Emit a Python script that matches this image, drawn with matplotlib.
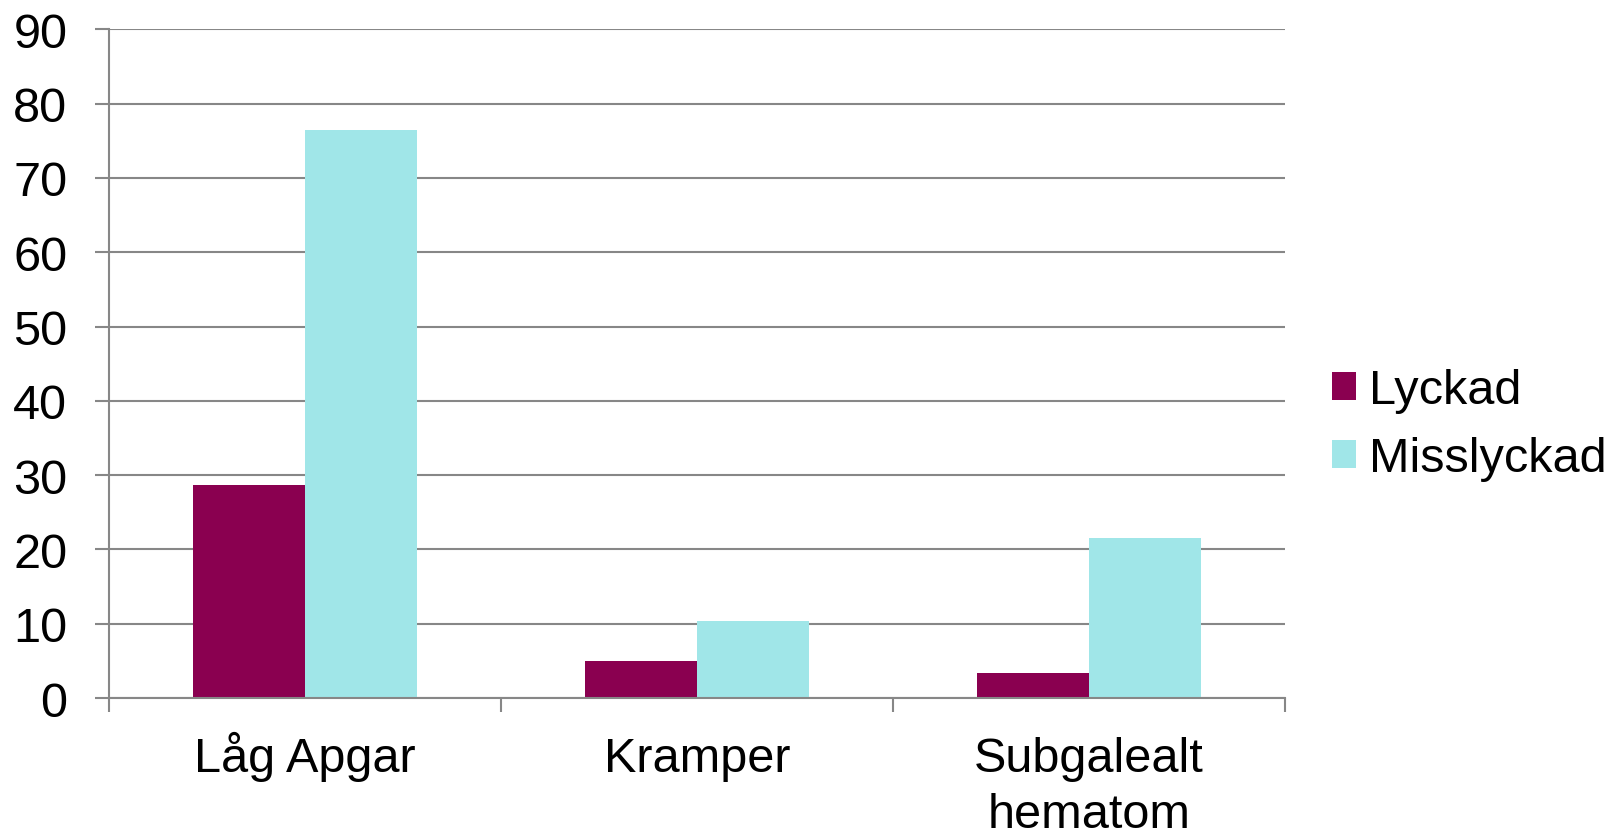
import matplotlib.pyplot as plt
import matplotlib.transforms as mtransforms
import numpy as np

plt.rcParams['font.family'] = ['Liberation Sans', 'DejaVu Sans']

categories = ['Låg Apgar', 'Kramper', 'Subgalealt\nhematom']
lyckad = [28.7, 5.0, 3.4]
misslyckad = [76.4, 10.3, 21.5]
series_names = ['Lyckad', 'Misslyckad']

MAGENTA = '#8a0050'
CYAN = '#a0e6e8'
GRID = '#878787'
FS = 35

fig = plt.figure(figsize=(16.12, 8.29), dpi=100)
ax = fig.add_axes([0.0676, 0.1568, 0.7296, 0.8066])

x = np.arange(len(categories))
w = 0.2857
ax.bar(x - w / 2, lyckad, w, color=MAGENTA, label=series_names[0], zorder=3)
ax.bar(x + w / 2, misslyckad, w, color=CYAN, label=series_names[1], zorder=3)

ax.set_xlim(-0.5, len(categories) - 0.5)
ax.set_ylim(0, 90)
ax.set_yticks(np.arange(0, 91, 10))
ax.yaxis.grid(True, color=GRID, linewidth=1.5, zorder=0)

# tick marks on category boundaries, names written between them
ax.set_xticks(np.arange(-0.5, len(categories), 1.0))
ax.set_xticklabels([])
ax.tick_params(axis='x', length=10, width=1.5, color=GRID)
ax.tick_params(axis='y', length=10, width=1.5, color=GRID, labelsize=FS, pad=20)

# each line on its own baseline so all first lines line up
first_base = 52.5   # points below the axis
line_step = 40.3
for i, name in enumerate(categories):
    for j, line in enumerate(name.split('\n')):
        off = mtransforms.ScaledTranslation(0, -(first_base + j * line_step) / 72,
                                            fig.dpi_scale_trans)
        ax.text(x[i], 0, line, transform=ax.get_xaxis_transform() + off,
                ha='center', va='baseline', fontsize=FS, clip_on=False)

for s in ['top', 'right']:
    ax.spines[s].set_visible(False)
for s in ['left', 'bottom']:
    ax.spines[s].set_color(GRID)
    ax.spines[s].set_linewidth(1.5)
    ax.spines[s].set_zorder(4)

fig.legend(loc='center left', bbox_to_anchor=(0.826, 0.4866), frameon=False,
           fontsize=FS, handlelength=0.51, handleheight=0.51, handletextpad=0.27,
           labelspacing=0.475, borderpad=0, borderaxespad=0)

fig.savefig('out.png', dpi=100)
